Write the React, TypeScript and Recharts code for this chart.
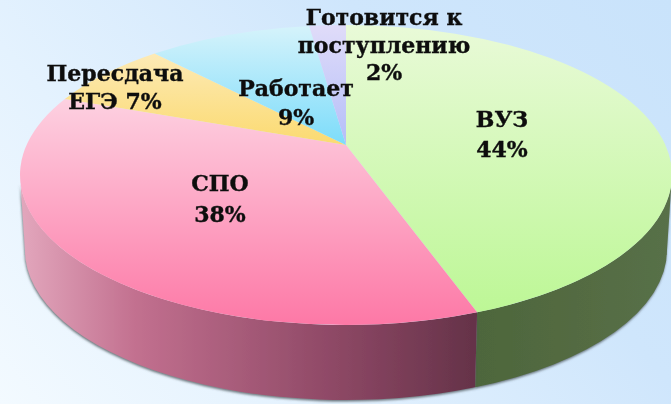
import React from 'react';
import { PieChart, Pie } from 'recharts';

const VALUES = [44, 38, 7, 9, 2];
const LABEL_LINES = [
  ['ВУЗ', '44%'],
  ['СПО', '38%'],
  ['Пересдача', 'ЕГЭ 7%'],
  ['Работает', '9%'],
  ['Готовится к', 'поступлению', '2%'],
];

// centre x and first baseline y of each label, line step after it
const LABEL_SPOTS = [
  { x: 502, y: 127, step: 30 },
  { x: 220, y: 191, step: 31 },
  { x: 115, y: 81, step: 28 },
  { x: 296, y: 96, step: 29 },
  { x: 384, y: 25, step: 27.5 },
];

const TOP_STOPS = [
  ['#e9fad8', '#bdf796'],
  ['#fde0eb', '#fd78a6'],
  ['#fdefcc', '#fbda70'],
  ['#d6f3fb', '#7cdcfa'],
  ['#e0dcf9', '#b4bef8'],
];

const W = 671;
const H = 404;
const CX = 346;
const CY = 145;
const RX = 326;
const RATIO = 150 / 326; // flattening of the disc
const RIM_DY = 30; // rim ellipse centre sits lower than the apex
const DEPTH = 75;
const BOTTOM_RX = 321;

const topData = VALUES.map((value, i) => ({ value, fill: `url(#top${i})` }));
const wallData = VALUES.map((value, i) => ({
  value,
  fill: i === 0 ? 'url(#wallGreen)' : 'url(#wallPink)',
}));

const rad = (d: number) => (d * Math.PI) / 180;

// clockwise angle from the top -> parameter on the rim ellipse
const rimParam = (angle: number, ry: number) => {
  if (angle <= 0.01) return 0;
  if (angle >= 359.99) return 360;
  const v0 = -RIM_DY / ry;
  const du = Math.sin(rad(angle));
  const dv = -Math.cos(rad(angle));
  const b = v0 * dv;
  const t = -b + Math.sqrt(b * b - v0 * v0 + 1);
  let phi = (Math.atan2(t * du, -(v0 + t * dv)) * 180) / Math.PI;
  if (phi < 0) phi += 360;
  return (phi + angle) / 2;
};

const TopSlice = (props: any) => {
  const { cx, cy, outerRadius, startAngle, endAngle, fill } = props;
  const ry = outerRadius * RATIO;
  const a0 = rimParam(90 - startAngle, ry);
  const a1 = rimParam(90 - endAngle, ry);
  const px = (a: number) => cx + outerRadius * Math.sin(rad(a));
  const py = (a: number) => cy + RIM_DY - ry * Math.cos(rad(a));
  const large = a1 - a0 > 180 ? 1 : 0;
  const d = `M${cx},${cy}L${px(a0)},${py(a0)}A${outerRadius},${ry} 0 ${large} 1 ${px(a1)},${py(a1)}Z`;
  return <path d={d} fill={fill} stroke="none" />;
};

const WallSlice = (props: any) => {
  const { cx, cy, outerRadius, startAngle, endAngle, fill } = props;
  const ry = outerRadius * RATIO;
  const a0 = Math.max(rimParam(90 - startAngle, ry), 90);
  const a1 = Math.min(rimParam(90 - endAngle, ry), 270);
  if (a1 <= a0) return <g />;
  const top = cy + RIM_DY;
  const x = (a: number, r: number) => cx + r * Math.sin(rad(a));
  const y = (a: number, base: number) => base - ry * Math.cos(rad(a));
  const d =
    `M${x(a0, outerRadius)},${y(a0, top)}` +
    `A${outerRadius},${ry} 0 0 1 ${x(a1, outerRadius)},${y(a1, top)}` +
    `L${x(a1, BOTTOM_RX)},${y(a1, top + DEPTH)}` +
    `A${BOTTOM_RX},${ry} 0 0 0 ${x(a0, BOTTOM_RX)},${y(a0, top + DEPTH)}Z`;
  return <path d={d} fill={fill} stroke="none" filter="url(#wallShadow)" />;
};

const SliceLabel = (props: any) => {
  const { index } = props;
  const spot = LABEL_SPOTS[index];
  return (
    <text
      textAnchor="middle"
      fontFamily="'DejaVu Serif', serif"
      fontWeight="bold"
      fontSize={22}
      fill="#111"
      stroke="#111"
      strokeWidth={0.4}
      filter="url(#soft)"
    >
      {LABEL_LINES[index].map((line, i) => (
        <tspan key={line} x={spot.x} y={spot.y + i * spot.step}>
          {line}
        </tspan>
      ))}
    </text>
  );
};

export default function App() {
  return (
    <div
      style={{
        position: 'absolute',
        left: 0,
        top: 0,
        width: W,
        height: H,
        overflow: 'hidden',
        background: 'linear-gradient(50deg, #f3faff 0%, #e4f2fe 30%, #cfe6fc 68%, #c9e3fb 100%)',
      }}
    >
      <PieChart width={W} height={H} margin={{ top: 0, right: 0, bottom: 0, left: 0 }}>
        <defs>
          {TOP_STOPS.map((stops, i) => (
            <linearGradient
              key={i}
              id={`top${i}`}
              gradientUnits="userSpaceOnUse"
              x1="0"
              y1={i === 1 ? 60 : 25}
              x2="0"
              y2={i === 0 ? 312 : i === 1 ? 325 : 145}
            >
              <stop offset="0" stopColor={stops[0]} />
              <stop offset="1" stopColor={stops[1]} />
            </linearGradient>
          ))}
          <linearGradient id="wallGreen" gradientUnits="userSpaceOnUse" x1="478" y1="0" x2="671" y2="0">
            <stop offset="0" stopColor="#4e663c" />
            <stop offset="1" stopColor="#587048" />
          </linearGradient>
          <linearGradient id="wallPink" gradientUnits="userSpaceOnUse" x1="22" y1="0" x2="478" y2="0">
            <stop offset="0" stopColor="#e2a6bc" />
            <stop offset="0.25" stopColor="#c2708f" />
            <stop offset="0.7" stopColor="#8c4764" />
            <stop offset="1" stopColor="#643248" />
          </linearGradient>
          <filter id="wallShadow" x="-5%" y="-5%" width="110%" height="115%">
            <feDropShadow dx="-0.5" dy="1.5" stdDeviation="1.2" floodColor="#4a5558" floodOpacity="0.8" />
          </filter>
          <filter id="soft" x="-5%" y="-5%" width="110%" height="110%">
            <feGaussianBlur stdDeviation="0.35" />
          </filter>
        </defs>
        <Pie
          data={wallData}
          dataKey="value"
          cx={CX}
          cy={CY}
          outerRadius={RX}
          startAngle={90}
          endAngle={-270}
          stroke="none"
          shape={WallSlice}
          isAnimationActive={false}
        />
        <Pie
          data={topData}
          dataKey="value"
          cx={CX}
          cy={CY}
          outerRadius={RX}
          startAngle={90}
          endAngle={-270}
          stroke="none"
          shape={TopSlice}
          label={SliceLabel}
          labelLine={false}
          isAnimationActive={false}
        />
      </PieChart>
    </div>
  );
}
